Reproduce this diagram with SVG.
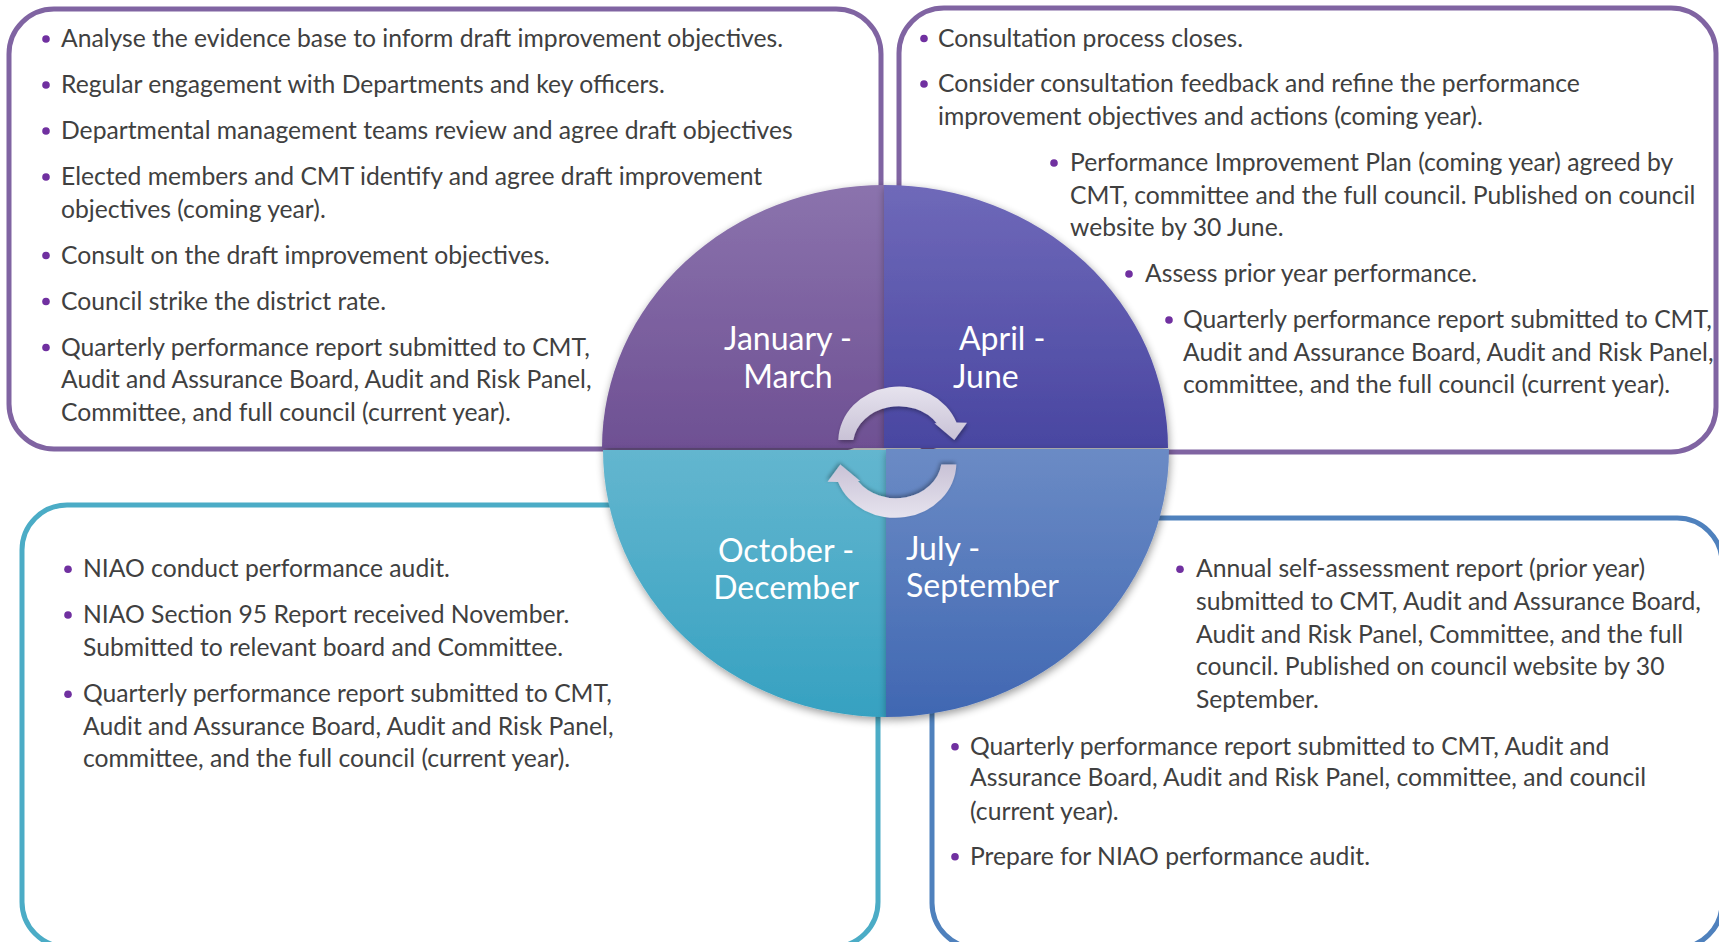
<svg xmlns="http://www.w3.org/2000/svg" width="1719" height="942" viewBox="0 0 1719 942">
<style>
.box{fill:#ffffff;stroke-width:5}
.pu{stroke:#8064A2}
.te{stroke:#4BACC6}
.bl{stroke:#4F81BD}
.t{font-family:Lato,"Liberation Sans",sans-serif;font-size:24.7px;fill:#404040}
.lbl{font-family:Lato,"Liberation Sans",sans-serif;font-size:32px;fill:#ffffff}
.dot{fill:#7030A0}
.arrow{fill:url(#gArrow);filter:url(#shA)}
</style>
<defs>
<linearGradient id="gTL" x1="0" y1="0" x2="0" y2="1"><stop offset="0" stop-color="#8B73AD"/><stop offset="1" stop-color="#6E5093"/></linearGradient>
<linearGradient id="gTR" x1="0" y1="0" x2="0" y2="1"><stop offset="0" stop-color="#6F69B9"/><stop offset="1" stop-color="#4946A1"/></linearGradient>
<linearGradient id="gBL" x1="0" y1="0" x2="0" y2="1"><stop offset="0" stop-color="#63B6CF"/><stop offset="1" stop-color="#36A1C1"/></linearGradient>
<linearGradient id="gBR" x1="0" y1="0" x2="0" y2="1"><stop offset="0" stop-color="#6B8BC5"/><stop offset="1" stop-color="#4067B2"/></linearGradient>
<linearGradient id="gArrow" x1="0" y1="0" x2="0" y2="1"><stop offset="0" stop-color="#E6E3EE"/><stop offset="1" stop-color="#C9C2D6"/></linearGradient>
<filter id="sh" x="-10%" y="-10%" width="120%" height="120%">
<feGaussianBlur in="SourceAlpha" stdDeviation="4"/>
<feOffset dx="1" dy="3" result="o"/>
<feComponentTransfer><feFuncA type="linear" slope="0.4"/></feComponentTransfer>
<feMerge><feMergeNode/><feMergeNode in="SourceGraphic"/></feMerge>
</filter>
<filter id="shA" x="-20%" y="-20%" width="140%" height="140%">
<feGaussianBlur in="SourceAlpha" stdDeviation="2"/>
<feOffset dx="1" dy="2" result="o"/>
<feComponentTransfer><feFuncA type="linear" slope="0.35"/></feComponentTransfer>
<feMerge><feMergeNode/><feMergeNode in="SourceGraphic"/></feMerge>
</filter>
</defs>

<g id="box-jan-mar">
<rect class="box pu" x="9" y="9" width="872" height="440" rx="45"/>
<circle class="dot" cx="46" cy="39" r="3.8"/>
<text class="t" x="61" y="47">Analyse the evidence base to inform draft improvement objectives.</text>
<circle class="dot" cx="46" cy="85" r="3.8"/>
<text class="t" x="61" y="93">Regular engagement with Departments and key officers.</text>
<circle class="dot" cx="46" cy="131" r="3.8"/>
<text class="t" x="61" y="139">Departmental management teams review and agree draft objectives</text>
<circle class="dot" cx="46" cy="177" r="3.8"/>
<text class="t" x="61" y="185">Elected members and CMT identify and agree draft improvement</text>
<text class="t" x="61" y="217.7">objectives (coming year).</text>
<circle class="dot" cx="46" cy="255.5" r="3.8"/>
<text class="t" x="61" y="263.5">Consult on the draft improvement objectives.</text>
<circle class="dot" cx="46" cy="301.5" r="3.8"/>
<text class="t" x="61" y="309.5">Council strike the district rate.</text>
<circle class="dot" cx="46" cy="347.5" r="3.8"/>
<text class="t" x="61" y="355.5">Quarterly performance report submitted to CMT,</text>
<text class="t" x="61" y="388">Audit and Assurance Board, Audit and Risk Panel,</text>
<text class="t" x="61" y="420.5">Committee, and full council (current year).</text>
</g>

<g id="box-apr-jun">
<rect class="box pu" x="899" y="8" width="817" height="444" rx="45"/>
<circle class="dot" cx="924" cy="38.5" r="3.8"/>
<text class="t" x="938" y="46.5">Consultation process closes.</text>
<circle class="dot" cx="924" cy="84" r="3.8"/>
<text class="t" x="938" y="92">Consider consultation feedback and refine the performance</text>
<text class="t" x="938" y="125">improvement objectives and actions (coming year).</text>
<circle class="dot" cx="1054" cy="163" r="3.8"/>
<text class="t" x="1070" y="171">Performance Improvement Plan (coming year) agreed by</text>
<text class="t" x="1070" y="203.5">CMT, committee and the full council. Published on council</text>
<text class="t" x="1070" y="236">website by 30 June.</text>
<circle class="dot" cx="1129" cy="274" r="3.8"/>
<text class="t" x="1145" y="282">Assess prior year performance.</text>
<circle class="dot" cx="1169" cy="320" r="3.8"/>
<text class="t" x="1183" y="328">Quarterly performance report submitted to CMT,</text>
<text class="t" x="1183" y="360.5">Audit and Assurance Board, Audit and Risk Panel,</text>
<text class="t" x="1183" y="393">committee, and the full council (current year).</text>
</g>

<g id="box-oct-dec">
<rect class="box te" x="22" y="505" width="856" height="442" rx="45"/>
<circle class="dot" cx="68" cy="569.3" r="3.8"/>
<text class="t" x="83" y="577.3">NIAO conduct performance audit.</text>
<circle class="dot" cx="68" cy="615" r="3.8"/>
<text class="t" x="83" y="623">NIAO Section 95 Report received November.</text>
<text class="t" x="83" y="656.3">Submitted to relevant board and Committee.</text>
<circle class="dot" cx="68" cy="694.3" r="3.8"/>
<text class="t" x="83" y="702.3">Quarterly performance report submitted to CMT,</text>
<text class="t" x="83" y="735.3">Audit and Assurance Board, Audit and Risk Panel,</text>
<text class="t" x="83" y="767.3">committee, and the full council (current year).</text>
</g>

<g id="box-jul-sep">
<rect class="box bl" x="932" y="518" width="790" height="430" rx="45"/>
<circle class="dot" cx="1180" cy="569.3" r="3.8"/>
<text class="t" x="1196" y="577.3">Annual self-assessment report (prior year)</text>
<text class="t" x="1196" y="609.7">submitted to CMT, Audit and Assurance Board,</text>
<text class="t" x="1196" y="643">Audit and Risk Panel, Committee, and the full</text>
<text class="t" x="1196" y="675.3">council. Published on council website by 30</text>
<text class="t" x="1196" y="708">September.</text>
<circle class="dot" cx="955" cy="746.7" r="3.8"/>
<text class="t" x="970" y="754.7">Quarterly performance report submitted to CMT, Audit and</text>
<text class="t" x="970" y="785.7">Assurance Board, Audit and Risk Panel, committee, and council</text>
<text class="t" x="970" y="819.7">(current year).</text>
<circle class="dot" cx="955" cy="856.7" r="3.8"/>
<text class="t" x="970" y="864.7">Prepare for NIAO performance audit.</text>
</g>

<g id="q-jan-mar">
<path d="M 885 448 L 602 448 A 283 263 0 0 1 885 185 Z" fill="url(#gTL)" filter="url(#sh)"/>
<text class="lbl" x="788" y="350" text-anchor="middle">January -</text>
<text class="lbl" x="788" y="387.7" text-anchor="middle">March</text>
</g>
<g id="q-apr-jun">
<path d="M 884 448 L 884 185 A 284 263 0 0 1 1168 448 Z" fill="url(#gTR)" filter="url(#sh)"/>
<text class="lbl" x="959" y="350">April -</text>
<text class="lbl" x="953" y="387.7">June</text>
</g>
<g id="q-oct-dec">
<path d="M 886 450 L 886 717 A 283 267 0 0 1 603 450 Z" fill="url(#gBL)" filter="url(#sh)"/>
<text class="lbl" x="786" y="561.7" text-anchor="middle">October -</text>
<text class="lbl" x="786" y="599.3" text-anchor="middle">December</text>
</g>
<g id="q-jul-sep">
<path d="M 886 449 L 1169 449 A 283 268 0 0 1 886 717 Z" fill="url(#gBR)" filter="url(#sh)"/>
<text class="lbl" x="906" y="559.5">July -</text>
<text class="lbl" x="906" y="597.3">September</text>
</g>

<g id="connectors">
<path class="arrow" d="M 838.3 440 A 61 55 0 0 1 956.5 422.5 L 967 422.7 L 954.3 440 L 934.5 423.3 L 936.7 423.3 A 46 39.5 0 0 0 853.3 440 Z"/>
<path class="arrow" transform="rotate(180 897.3 452.2)" d="M 838.3 440 A 61 55 0 0 1 956.5 422.5 L 967 422.7 L 954.3 440 L 934.5 423.3 L 936.7 423.3 A 46 39.5 0 0 0 853.3 440 Z"/>
</g>
</svg>
